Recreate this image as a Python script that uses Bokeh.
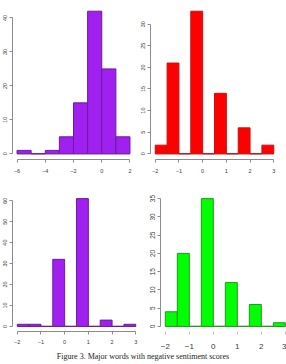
from bokeh.plotting import figure
from bokeh.layouts import column, row
from bokeh.models import Range1d, FixedTicker, Div
from bokeh.embed import file_html
from bokeh.resources import INLINE

# Histogram data: bin edges and counts for each panel
tl_edges = [-6, -5, -4, -3, -2, -1, 0, 1, 2]
tl_counts = [1, 0, 1, 5, 15, 42, 25, 5]
tl_xticks = [-6, -4, -2, 0, 2]
tl_yticks = [0, 10, 20, 30, 40]

tr_edges = [-2, -1.5, -1, -0.5, 0, 0.5, 1, 1.5, 2, 2.5, 3]
tr_counts = [2, 21, 0, 33, 0, 14, 0, 6, 0, 2]
tr_xticks = [-2, -1, 0, 1, 2, 3]
tr_yticks = [0, 5, 10, 15, 20, 25, 30]

bl_edges = [-2, -1.5, -1, -0.5, 0, 0.5, 1, 1.5, 2, 2.5, 3]
bl_counts = [1, 1, 0, 32, 0, 61, 0, 3, 0, 1]
bl_xticks = [-2, -1, 0, 1, 2, 3]
bl_yticks = [0, 10, 20, 30, 40, 50, 60]

br_edges = [-2, -1.5, -1, -0.5, 0, 0.5, 1, 1.5, 2, 2.5, 3]
br_counts = [4, 20, 0, 35, 0, 12, 0, 6, 0, 1]
br_xticks = [-2, -1, 0, 1, 2, 3]
br_yticks = [0, 5, 10, 15, 20, 25, 30, 35]

caption = "Figure 3. Major words with negative sentiment scores"

SANS = "Liberation Sans"
AXIS_GREY = "#8c8c8c"
LABEL_GREY = "#3a3a3a"


def hist_panel(edges, counts, xticks, yticks, fill, border,
               width, height, lb, rb, tb, bb, x_end=None,
               xlabel_size="5.5px", ylabel_size="5.5px",
               xstandoff=6, xaxis_line=True):
    span = edges[-1] - edges[0]
    x0 = edges[0] - 0.04 * span
    x1 = edges[-1] + 0.04 * span if x_end is None else x_end
    ytop = max(counts)
    p = figure(width=width, height=height, output_backend="svg",
               toolbar_location=None,
               x_range=Range1d(x0, x1),
               y_range=Range1d(-0.04 * ytop, 1.04 * ytop),
               min_border_left=lb, min_border_right=rb,
               min_border_top=tb, min_border_bottom=bb)
    p.outline_line_color = None
    p.grid.visible = False
    p.background_fill_color = "white"
    p.border_fill_color = "white"

    # empty bins show as a line along zero
    p.line(x=[edges[0], edges[-1]], y=[0, 0], line_color="#7a7a7a",
           line_width=1)
    p.quad(left=edges[:-1], right=edges[1:], top=counts, bottom=0,
           fill_color=fill, line_color=border, line_width=1)

    xa = p.xaxis[0]
    xa.ticker = FixedTicker(ticks=xticks)
    xa.bounds = (xticks[0], xticks[-1])
    xa.major_tick_out = 3
    xa.major_tick_in = 0
    xa.minor_tick_line_color = None
    xa.major_label_standoff = xstandoff
    xa.major_label_text_font = SANS
    xa.major_label_text_font_size = xlabel_size
    xa.major_label_text_color = LABEL_GREY
    xa.axis_line_color = AXIS_GREY if xaxis_line else None
    xa.major_tick_line_color = AXIS_GREY if xaxis_line else "#c4c4c4"

    ya = p.yaxis[0]
    ya.ticker = FixedTicker(ticks=yticks)
    ya.bounds = (yticks[0], yticks[-1])
    ya.major_tick_out = 3
    ya.major_tick_in = 0
    ya.minor_tick_line_color = None
    ya.major_label_standoff = 2
    ya.major_label_orientation = "vertical"
    ya.major_label_text_font = SANS
    ya.major_label_text_font_size = ylabel_size
    ya.major_label_text_color = LABEL_GREY
    ya.axis_line_color = AXIS_GREY
    ya.major_tick_line_color = AXIS_GREY
    return p


tl = hist_panel(tl_edges, tl_counts, tl_xticks, tl_yticks,
                "#A020F0", "#6c1a9e", 136, 180, 12, 2, 5, 21)
tr = hist_panel(tr_edges, tr_counts, tr_xticks, tr_yticks,
                "#FF0000", "#c41212", 150, 180, 14, 8, 5, 21)
bl = hist_panel(bl_edges, bl_counts, bl_xticks, bl_yticks,
                "#A020F0", "#6c1a9e", 144, 172, 12, 4, 9, 16,
                xstandoff=5)
br = hist_panel(br_edges, br_counts, br_xticks, br_yticks,
                "#00FF00", "#1f9a1f", 142, 172, 16, 0, 13, 21,
                x_end=3.05, xlabel_size="8px", ylabel_size="6.5px",
                xstandoff=9, xaxis_line=False)

cap = Div(text=caption, width=286, height=12, margin=0,
          styles={"font-family": "Liberation Serif", "font-size": "8px",
                  "text-align": "center", "line-height": "10px",
                  "color": "#222222", "width": "286px"})

layout = column(row(tl, tr), row(bl, br), cap)

open("out.html", "w").write(file_html(layout, INLINE))
